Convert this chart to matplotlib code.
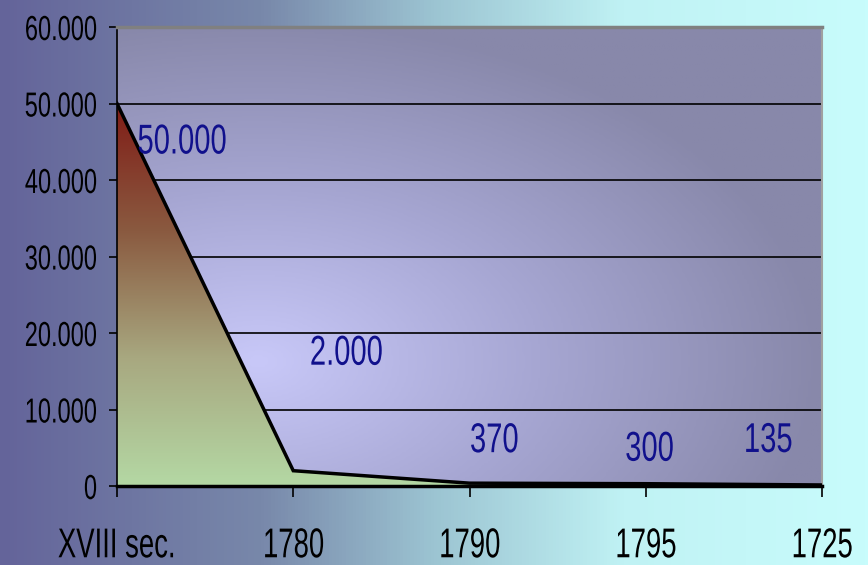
import numpy as np
import matplotlib
matplotlib.use("Agg")
import matplotlib.pyplot as plt
from matplotlib.colors import LinearSegmentedColormap
from matplotlib.patheffects import AbstractPathEffect
from matplotlib.transforms import Affine2D

categories = ["XVIII sec.", "1780", "1790", "1795", "1725"]
values = [50000, 2000, 370, 300, 135]
value_labels = ["50.000", "2.000", "370", "300", "135"]
y_ticks = [0, 10000, 20000, 30000, 40000, 50000, 60000]
y_tick_labels = ["0", "10.000", "20.000", "30.000", "40.000", "50.000", "60.000"]

# offsets (pixels, up = positive) of the data labels' baseline-left from their points
label_offsets = [(20, -50), (16, 106), (0, 31), (-21, 23), (-79, 33)]

plt.rcParams["font.family"] = ["Liberation Sans", "DejaVu Sans"]


class Narrow(AbstractPathEffect):
    """squeeze glyphs horizontally, like a condensed font"""
    def __init__(self, s=0.65, frac=0.5):
        super().__init__()
        self.s = s
        self.frac = frac

    def draw_path(self, renderer, gc, tpath, affine, rgbFace=None):
        ext = tpath.get_extents()
        xc = ext.x0 + self.frac * (ext.x1 - ext.x0)
        sq = Affine2D().translate(-xc, 0).scale(self.s, 1).translate(xc, 0)
        renderer.draw_path(gc, tpath, sq + affine, rgbFace)


W, H = 868, 565
fig = plt.figure(figsize=(W / 100, H / 100), dpi=100)

# figure background: horizontal gradient
bg = fig.add_axes([0, 0, 1, 1], zorder=-10)
bg_cmap = LinearSegmentedColormap.from_list(
    "bg", [(0.0, "#64649a"), (0.3, "#7888aa"), (0.5, "#9cc4d2"), (0.72, "#c0f2f4"), (1.0, "#c8fcfc")])
bg.imshow(np.linspace(0, 1, 256)[None, :], cmap=bg_cmap, aspect="auto", extent=[0, 1, 0, 1])
bg.axis("off")

x = np.arange(len(categories))
ax = fig.add_axes([117 / W, 1 - 486 / H, (822 - 117) / W, (486 - 27) / H])
ax.set_xlim(0, len(categories) - 1)
ax.set_ylim(0, 60000)

# plot area background: soft radial gradient, light spot lower left
gx, gy = np.meshgrid(np.linspace(0, 1, 300), np.linspace(0, 1, 200))
r = np.sqrt(((gx - 0.2) / 0.8) ** 2 + ((gy - 0.27) / 0.75) ** 2)
r = np.clip(r, 0, 1)
pa_cmap = LinearSegmentedColormap.from_list("pa", ["#c8c8f8", "#a6a6d2", "#8888aa"])
ax.imshow(r, cmap=pa_cmap, aspect="auto", origin="lower",
          extent=[0, len(categories) - 1, 0, 60000], zorder=0)

# area with vertical gradient
poly = ax.fill_between(x, values, 0, facecolor="none", edgecolor="none", zorder=2)
area_cmap = LinearSegmentedColormap.from_list("area", ["#b4d8a4", "#a8a880", "#8a5a40", "#801c16"])
img = ax.imshow(np.linspace(0, 1, 256)[:, None], cmap=area_cmap, aspect="auto", origin="lower",
                extent=[0, len(categories) - 1, 0, 50000], zorder=2)
img.set_clip_path(poly.get_paths()[0], transform=ax.transData)
ax.plot(x, values, color="black", lw=2.5, zorder=4, solid_joinstyle="miter")

for yv in y_ticks[1:-1]:
    ax.axhline(yv, color="black", lw=1.2, zorder=1)

for xi, v, lab, off in zip(x, values, value_labels, label_offsets):
    ax.annotate(lab, (xi, v), xytext=(off[0] * 0.72, off[1] * 0.72), textcoords="offset points",
                ha="left", va="baseline", color="#10108c", fontsize=30, zorder=5,
                path_effects=[Narrow(0.7, 0.0)])

ax.set_xticks(x)
ax.set_xticklabels(categories)
ax.set_yticks(y_ticks)
ax.set_yticklabels(y_tick_labels)
ax.tick_params(axis="both", colors="black", width=1.2, direction="out")
ax.tick_params(axis="x", labelsize=30, length=8, pad=21)
ax.tick_params(axis="y", labelsize=25, length=6, pad=8)
for t in ax.get_xticklabels():
    t.set_path_effects([Narrow(0.66, 0.5)])
for t in ax.get_yticklabels():
    t.set_path_effects([Narrow(0.68, 1.0)])

ax.spines["left"].set_color("black")
ax.spines["left"].set_linewidth(1.2)
ax.spines["bottom"].set_color("black")
ax.spines["bottom"].set_linewidth(2.5)
ax.spines["top"].set_color("#808080")
ax.spines["top"].set_linewidth(2.5)
ax.spines["right"].set_color("#a0a0a0")
ax.spines["right"].set_linewidth(1.5)

fig.savefig("out.png", dpi=100)
